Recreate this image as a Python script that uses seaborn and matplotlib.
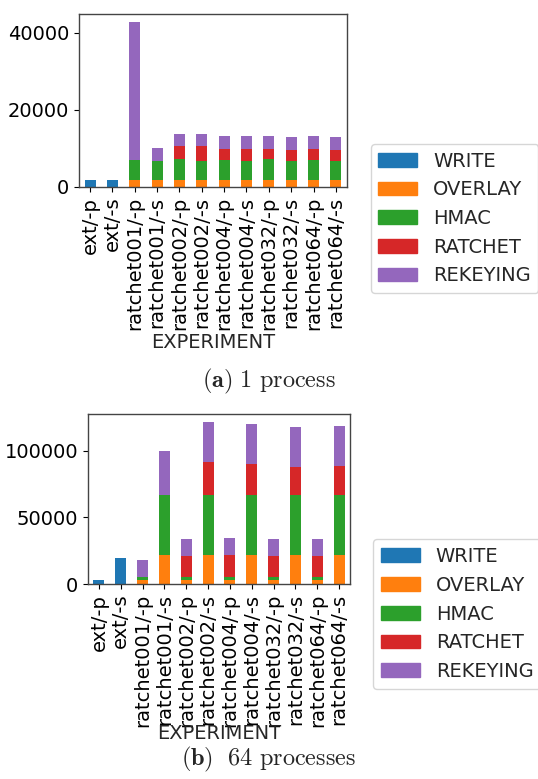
import numpy as np
import pandas as pd
import matplotlib
matplotlib.use("Agg")
import matplotlib.pyplot as plt
from matplotlib.ticker import MultipleLocator
import seaborn as sns

experiments = ["ext/-p", "ext/-s",
               "ratchet001/-p", "ratchet001/-s",
               "ratchet002/-p", "ratchet002/-s",
               "ratchet004/-p", "ratchet004/-s",
               "ratchet032/-p", "ratchet032/-s",
               "ratchet064/-p", "ratchet064/-s"]
components = ["WRITE", "OVERLAY", "HMAC", "RATCHET", "REKEYING"]

# (a) 1 process
write_1 = [1900, 1900, 0, 0, 0, 0, 0, 0, 0, 0, 0, 0]
overlay_1 = [0, 0, 1900, 1900, 1900, 1900, 1900, 1900, 1900, 1900, 1900, 1900]
hmac_1 = [0, 0, 5150, 4900, 5400, 4900, 5150, 4900, 5400, 4900, 5150, 4900]
ratchet_1 = [0, 0, 0, 0, 3200, 3700, 2850, 3100, 2600, 2850, 2850, 2850]
rekeying_1 = [0, 0, 35650, 3350, 3250, 3250, 3350, 3350, 3350, 3350, 3350, 3350]

# (b) 64 processes
write_64 = [3000, 19500, 0, 0, 0, 0, 0, 0, 0, 0, 0, 0]
overlay_64 = [0, 0, 3000, 21750, 3000, 21750, 3000, 21750, 3000, 21750, 3000, 21750]
hmac_64 = [0, 0, 2250, 45000, 2250, 45000, 2250, 45000, 2250, 45000, 2250, 45000]
ratchet_64 = [0, 0, 0, 0, 16000, 24750, 16500, 23250, 15750, 21000, 15750, 21750]
rekeying_64 = [0, 0, 12750, 33000, 12500, 30000, 12750, 30000, 12750, 30000, 12750, 30000]

sns.set_style("ticks")
plt.rcParams.update({
    "font.family": ["DejaVu Sans"],
    "font.size": 14,
    "mathtext.fontset": "cm",
    "axes.edgecolor": "#444444",
    "axes.linewidth": 1.0,
    "xtick.major.size": 3.5,
    "ytick.major.size": 3.5,
    "xtick.color": "black",
    "ytick.color": "black",
})
colors = sns.color_palette("tab10")[:5]

fig = plt.figure(figsize=(5.38, 7.79), dpi=100)
ax1 = fig.add_axes([0.1468, 0.760, 0.645 - 0.1468, 0.982 - 0.760])
ax2 = fig.add_axes([0.1636, 0.2503, 0.6506 - 0.1636, 0.4685 - 0.2503])


def stacked(ax, series, labelpad):
    df = pd.DataFrame(dict(zip(components, series)), index=experiments)
    cum = df.cumsum(axis=1)
    handles = []
    for i in reversed(range(len(components))):
        comp = components[i]
        sns.barplot(x=experiments, y=cum[comp].values, order=experiments,
                    color=colors[i], width=0.5, saturation=1, ax=ax,
                    linewidth=0, errorbar=None)
    for i, comp in enumerate(components):
        handles.append(plt.Rectangle((0, 0), 1, 1, color=colors[i], label=comp))
    ax.set_xlim(-0.5, len(experiments) - 0.5)
    ax.set_xlabel("EXPERIMENT", fontsize=14, labelpad=labelpad)
    ax.set_ylabel("")
    ax.tick_params(axis="x", rotation=90, labelsize=14)
    ax.tick_params(axis="y", labelsize=14)
    for s in ax.spines.values():
        s.set_visible(True)
    return handles


h1 = stacked(ax1, [write_1, overlay_1, hmac_1, ratchet_1, rekeying_1], 2)
ax1.yaxis.set_major_locator(MultipleLocator(20000))
h2 = stacked(ax2, [write_64, overlay_64, hmac_64, ratchet_64, rekeying_64], -2)
ax2.yaxis.set_major_locator(MultipleLocator(50000))

fig.legend(handles=h1, loc="center left", bbox_to_anchor=(0.671, 0.7195),
           fontsize=14, frameon=True)
fig.legend(handles=h2, loc="center left", bbox_to_anchor=(0.676, 0.2118),
           fontsize=14, frameon=True)

fig.text(0.5, 0.503, r"$\mathbf{(a)}\ \mathrm{1\ process}$", ha="center",
         va="baseline", fontsize=17.5)
fig.text(0.5, 0.017, r"$\mathbf{(b)}\ \ \mathrm{64\ processes}$", ha="center",
         va="baseline", fontsize=17.5)

fig.savefig("out.png", dpi=100)
